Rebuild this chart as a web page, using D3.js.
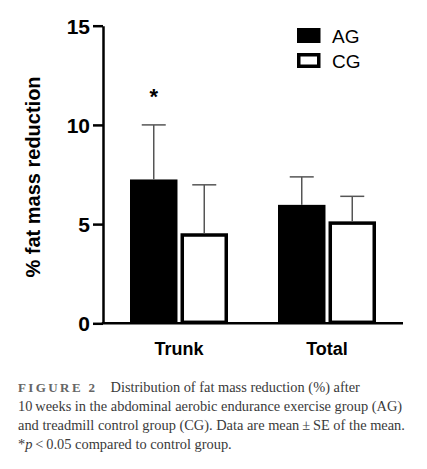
<!DOCTYPE html>
<html>
<head>
<meta charset="utf-8">
<script src="https://cdn.jsdelivr.net/npm/d3@7"></script>
<style>
  body { margin: 0; background: #fff; }
  svg { display: block; }
</style>
</head>
<body>
<script>
// data
var groups = ["Trunk", "Total"];
var series = ["AG", "CG"];
var meanAG = [7.25, 5.97];
var meanCG = [4.45, 5.05];
var upperAG = [10.0, 7.38];
var upperCG = [6.98, 6.4];
var yTicks = [0, 5, 10, 15];
var starred = ["Trunk"];
var captionLines = [
  "Distribution of fat mass reduction (%) after",
  "10\u2009weeks in the abdominal aerobic endurance exercise group (AG)",
  "and treadmill control group (CG). Data are mean\u2009\u00b1\u2009SE of the mean.",
  "*p\u2009<\u20090.05 compared to control group."
];

var svgWidth = 427, svgHeight = 469;
var svg = d3.select("body").append("svg")
  .attr("width", svgWidth)
  .attr("height", svgHeight);

var rows = [];
groups.forEach(function(g, i){
  rows.push({group: g, s: "AG", mean: meanAG[i], upper: upperAG[i]});
  rows.push({group: g, s: "CG", mean: meanCG[i], upper: upperCG[i]});
});

var y = d3.scaleLinear().domain([0, 15]).range([323.3, 25.7]);
var x0 = d3.scaleBand().domain(groups).range([105, 401]);
var x1 = d3.scaleBand().domain(series).range([-49, 49]).paddingInner(0.06);
var font = "'Liberation Sans', Arial, sans-serif";

// bars
var bars = svg.append("g");
bars.selectAll("rect")
  .data(rows)
  .enter().append("rect")
    .attr("x", function(d){
      var cx = x0(d.group) + x0.bandwidth() / 2 + x1(d.s);
      return d.s == "CG" ? cx + 1.75 : cx;
    })
    .attr("width", function(d){ return d.s == "CG" ? x1.bandwidth() - 3.5 : x1.bandwidth(); })
    .attr("y", function(d){ return y(d.mean); })
    .attr("height", function(d){ return y(0) - y(d.mean) - (d.s == "CG" ? 1 : 0); })
    .attr("fill", function(d){ return d.s == "AG" ? "#000" : "#fff"; })
    .attr("stroke", function(d){ return d.s == "CG" ? "#000" : "none"; })
    .attr("stroke-width", 3.5);

// upper error bars
var err = svg.append("g")
  .attr("stroke", "#555")
  .attr("stroke-width", 1.5)
  .attr("fill", "none");
rows.forEach(function(d){
  var cx = x0(d.group) + x0.bandwidth() / 2 + x1(d.s) + x1.bandwidth() / 2;
  err.append("line")
    .attr("x1", cx).attr("x2", cx)
    .attr("y1", y(d.mean) - (d.s == "CG" ? 1.75 : 0)).attr("y2", y(d.upper));
  err.append("line")
    .attr("x1", cx - 12).attr("x2", cx + 12)
    .attr("y1", y(d.upper)).attr("y2", y(d.upper));
});

// significance star
svg.selectAll(".star")
  .data(rows.filter(function(d){ return d.s == "AG" && starred.indexOf(d.group) >= 0; }))
  .enter().append("text")
    .attr("class", "star")
    .attr("x", function(d){ return x0(d.group) + x0.bandwidth() / 2 + x1("AG") + x1.bandwidth() / 2; })
    .attr("y", function(d){ return y(d.upper) - 21; })
    .attr("text-anchor", "middle")
    .attr("font-family", font)
    .attr("font-weight", "bold")
    .attr("font-size", 22)
    .text("*");

// y axis
var yAxis = svg.append("g")
  .attr("transform", "translate(103,0)")
  .call(d3.axisLeft(y).tickValues(yTicks).tickSize(10).tickPadding(3).tickSizeOuter(0));
yAxis.select(".domain").attr("stroke-width", 2.5);
yAxis.selectAll(".tick line").attr("stroke-width", 2.5);
yAxis.selectAll(".tick text")
  .attr("font-family", font)
  .attr("font-weight", "bold")
  .attr("font-size", 21)
  .attr("fill", "#000")
  .attr("dy", "0.36em");

// x axis, no ticks
var xAxis = svg.append("g")
  .attr("transform", "translate(0," + y(0) + ")")
  .call(d3.axisBottom(x0).tickSize(0).tickPadding(19));
xAxis.select(".domain")
  .attr("d", "M101.8,0H403")
  .attr("stroke-width", 2.5);
xAxis.selectAll(".tick text")
  .attr("font-family", font)
  .attr("font-weight", "bold")
  .attr("font-size", 18)
  .attr("fill", "#000");

// y label
svg.append("text")
  .attr("transform", "translate(40,177) rotate(-90)")
  .attr("text-anchor", "middle")
  .attr("font-family", font)
  .attr("font-weight", "bold")
  .attr("font-size", 20)
  .text("% fat mass reduction");

// legend
var legend = svg.append("g").attr("transform", "translate(297,28)");
series.forEach(function(s, i){
  var row = legend.append("g").attr("transform", "translate(0," + (i * 25) + ")");
  row.append("rect")
    .attr("x", s == "CG" ? 1.75 : 0)
    .attr("y", s == "CG" ? 1.75 : 0)
    .attr("width", s == "CG" ? 20 : 23.5)
    .attr("height", s == "CG" ? 11.5 : 15)
    .attr("fill", s == "AG" ? "#000" : "#fff")
    .attr("stroke", s == "CG" ? "#000" : "none")
    .attr("stroke-width", 3.5);
  row.append("text")
    .attr("x", 35)
    .attr("y", 15)
    .attr("font-family", font)
    .attr("font-size", 19)
    .text(s);
});

// caption
var cap = svg.append("text")
  .attr("font-family", "'Liberation Serif', 'Times New Roman', serif")
  .attr("font-size", 14.4)
  .attr("fill", "#3a3a3a");
captionLines.forEach(function(line, i){
  var t = cap.append("tspan").attr("x", 18).attr("y", 392 + i * 19);
  if (i == 0) {
    t.append("tspan")
      .attr("font-weight", "bold")
      .attr("font-size", 13)
      .attr("letter-spacing", 2.4)
      .attr("fill", "#666")
      .text("FIGURE 2");
    t.append("tspan").attr("dx", 13).text(line);
  } else if (i == 3) {
    t.text("*");
    t.append("tspan").attr("font-style", "italic").text("p");
    t.append("tspan").text(line.slice(2));
  } else {
    t.text(line);
  }
});
</script>
</body>
</html>
